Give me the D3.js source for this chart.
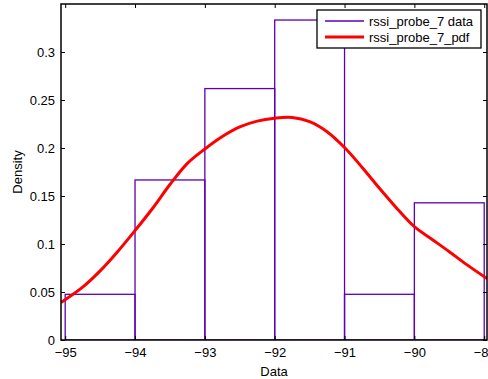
<!DOCTYPE html>
<html>
<head>
<meta charset="utf-8">
<script src="https://cdn.jsdelivr.net/npm/d3@7"></script>
<style>
  body { margin: 0; background: #fff; }
  svg { display: block; font-family: 'Liberation Sans', Arial, sans-serif; }
</style>
</head>
<body>
<div id="chart"></div>
<script>
// histogram bins (left edges) and their density
const binStarts = [-95, -94, -93, -92, -91, -90];
const binWidth = 1;
const binDensity = [0.0476, 0.1667, 0.2619, 0.3333, 0.0476, 0.1429];

// fitted pdf (kernel)
const pdfX = [-95.06, -94.75, -94.5, -94.25, -94.0, -93.75, -93.5, -93.25, -93.0, -92.75,
  -92.5, -92.25, -92.0, -91.75, -91.5, -91.25, -91.0, -90.75, -90.5, -90.25,
  -90.0, -89.75, -89.5, -89.25, -88.96];
const pdfY = [0.039, 0.055, 0.072, 0.092, 0.114, 0.137, 0.162, 0.184, 0.199, 0.212,
  0.222, 0.228, 0.231, 0.2318, 0.2275, 0.217, 0.2005, 0.180, 0.158, 0.137,
  0.118, 0.105, 0.092, 0.0785, 0.064];

const xTicks = [-95, -94, -93, -92, -91, -90, -89];
const yTicks = [0, 0.05, 0.1, 0.15, 0.2, 0.25, 0.3];
const seriesNames = ['rssi_probe_7 data', 'rssi_probe_7_pdf'];

const width = 488, height = 379;
const margin = { top: 4, right: 1, bottom: 39, left: 61 };
const w = width - margin.left - margin.right;
const h = height - margin.top - margin.bottom;

const svg = d3.select('#chart').append('svg')
  .attr('width', width)
  .attr('height', height);

const g = svg.append('g')
  .attr('transform', 'translate(' + margin.left + ',' + margin.top + ')');

const x = d3.scaleLinear().domain([-95.06, -88.96]).range([0, w]);
const y = d3.scaleLinear().domain([0, 0.35]).range([h, 0]);

g.append('defs').append('clipPath').attr('id', 'clip')
  .append('rect').attr('width', w).attr('height', h);

const plot = g.append('g').attr('clip-path', 'url(#clip)');

// histogram bars
plot.selectAll('.bar')
  .data(binStarts)
  .enter()
  .append('rect')
  .attr('class', 'bar')
  .attr('x', d => x(d))
  .attr('y', (d, i) => y(binDensity[i]))
  .attr('width', d => x(d + binWidth) - x(d))
  .attr('height', (d, i) => h - y(binDensity[i]))
  .attr('fill', 'none')
  .attr('stroke', '#5a00b8')
  .attr('stroke-width', 1.3);

// pdf curve
const line = d3.line()
  .x(d => x(d[0]))
  .y(d => y(d[1]))
  .curve(d3.curveCatmullRom);

plot.append('path')
  .datum(pdfX.map((v, i) => [v, pdfY[i]]))
  .attr('d', line)
  .attr('fill', 'none')
  .attr('stroke', '#ff0000')
  .attr('stroke-width', 3);

// axes (ticks inside, mirrored)
const tickLen = 4;
const axisStyle = sel => {
  sel.select('.domain').remove();
  sel.selectAll('.tick line').attr('stroke', '#000');
  sel.selectAll('.tick text').attr('fill', '#000').style('font-size', '13px');
};

g.append('g')
  .attr('transform', 'translate(0,' + h + ')')
  .call(d3.axisBottom(x).tickValues(xTicks).tickSizeInner(-tickLen).tickSizeOuter(0)
    .tickPadding(8).tickFormat(d => d3.format('d')(d).replace('-', '\u2212')))
  .call(axisStyle);

g.append('g')
  .call(d3.axisTop(x).tickValues(xTicks).tickSizeInner(-tickLen).tickSizeOuter(0).tickFormat(''))
  .call(axisStyle);

g.append('g')
  .call(d3.axisLeft(y).tickValues(yTicks).tickSizeInner(-tickLen).tickSizeOuter(0)
    .tickPadding(6).tickFormat(d => d3.format('~g')(d)))
  .call(axisStyle);

g.append('g')
  .attr('transform', 'translate(' + w + ',0)')
  .call(d3.axisRight(y).tickValues(yTicks).tickSizeInner(-tickLen).tickSizeOuter(0).tickFormat(''))
  .call(axisStyle);

// box
g.append('rect')
  .attr('width', w).attr('height', h)
  .attr('fill', 'none')
  .attr('stroke', '#000')
  .attr('stroke-width', 1.5);

// axis labels
svg.append('text')
  .attr('x', margin.left + w / 2)
  .attr('y', 376)
  .attr('text-anchor', 'middle')
  .style('font-size', '13px')
  .text('Data');

svg.append('text')
  .attr('transform', 'translate(22,' + (margin.top + h / 2) + ') rotate(-90)')
  .attr('text-anchor', 'middle')
  .style('font-size', '13px')
  .text('Density');

// legend
const legend = svg.append('g').attr('transform', 'translate(317,10)');
legend.append('rect')
  .attr('width', 164).attr('height', 38)
  .attr('fill', '#fff')
  .attr('stroke', '#000')
  .attr('stroke-width', 1.3);

const legendColors = ['#5a00b8', '#ff0000'];
const legendWidths = [1.3, 3];
seriesNames.forEach((name, i) => {
  const ly = 11 + i * 16;
  legend.append('line')
    .attr('x1', 8).attr('x2', 47)
    .attr('y1', ly).attr('y2', ly)
    .attr('stroke', legendColors[i])
    .attr('stroke-width', legendWidths[i]);
  legend.append('text')
    .attr('x', 52).attr('y', ly)
    .attr('dy', '0.35em')
    .style('font-size', '13px')
    .text(name);
});
</script>
</body>
</html>
